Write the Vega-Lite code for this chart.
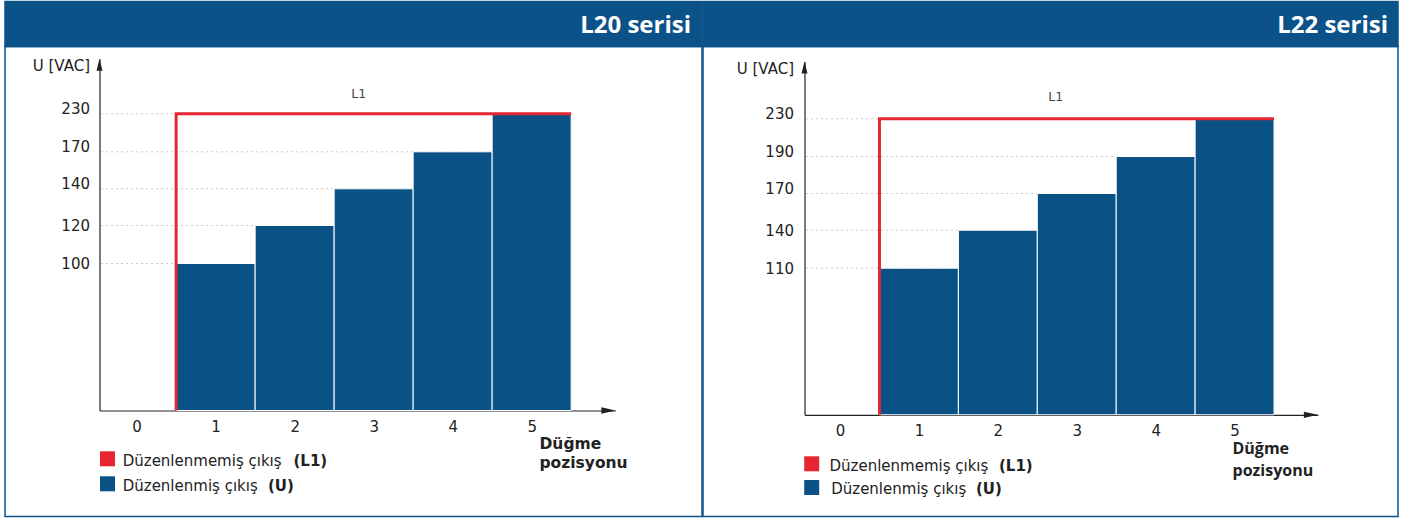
{
  "$schema": "https://vega.github.io/schema/vega-lite/v6.json",
  "background": "white",
  "padding": {"left": 4, "top": 0.5, "right": 9, "bottom": 2},
  "autosize": {"type": "pad"},
  "spacing": -2,
  "config": {
    "font": "DejaVu Sans",
    "view": {"stroke": "#0b5289", "strokeWidth": 1.5},
    "concat": {"spacing": 0},
    "scale": {"continuousPadding": 0}
  },
  "datasets": {
    "head_l20": [{"title": "L20 serisi"}],
    "head_l22": [{"title": "L22 serisi"}],
    "l20_bars": [{"pos": 1, "U": 100}, {"pos": 2, "U": 120}, {"pos": 3, "U": 140}, {"pos": 4, "U": 170}, {"pos": 5, "U": 230}],
    "l20_L1": [{"pos": 0.5, "L1": 0}, {"pos": 0.5, "L1": 230}, {"pos": 5.5, "L1": 230}],
    "l20_ticks": [{"tick": 100}, {"tick": 120}, {"tick": 140}, {"tick": 170}, {"tick": 230}],
    "l22_bars": [{"pos": 1, "U": 110}, {"pos": 2, "U": 140}, {"pos": 3, "U": 170}, {"pos": 4, "U": 190}, {"pos": 5, "U": 230}],
    "l22_L1": [{"pos": 0.5, "L1": 0}, {"pos": 0.5, "L1": 230}, {"pos": 5.5, "L1": 230}],
    "l22_ticks": [{"tick": 110}, {"tick": 140}, {"tick": 170}, {"tick": 190}, {"tick": 230}],
    "legend": [
      {"series": "L1", "label": "Düzenlenmemiş çıkış", "key": "(L1)"},
      {"series": "U", "label": "Düzenlenmiş çıkış", "key": "(U)"}
    ]
  },
  "hconcat": [
    {
      "spacing": 0,
      "bounds": "flush",
      "vconcat": [
        {
          "width": 697, "height": 45,
          "view": {"fill": "#0b5289", "stroke": "#0b5289"},
          "data": {"name": "head_l20"},
          "mark": {"type": "text", "align": "right", "baseline": "middle", "font": "Open Sans", "fontWeight": "bold", "fontSize": 24, "color": "white", "dx": -11, "dy": 1.5},
          "encoding": {"text": {"field": "title"}, "x": {"value": "width"}}
        },
        {
          "width": 697, "height": 470,
          "layer": [
            {
              "data": {"name": "l20_ticks"},
              "mark": {"type": "rule", "strokeDash": [2, 3], "color": "#c9c9c9", "strokeWidth": 1},
              "encoding": {
                "y": {"field": "tick", "type": "quantitative",
                  "scale": {"domain": [0, 100, 120, 140, 170, 230, 260], "range": [364, 217, 179, 142.3, 105.3, 67.3, 12.3], "nice": false, "zero": false, "padding": 0},
                  "axis": {"values": [100, 120, 140, 170, 230], "format": "d", "offset": -94.5, "domain": true, "domainColor": "#222", "domainWidth": 1.2, "ticks": false, "tickSize": 0, "grid": false, "labelPadding": 10, "labelFontSize": 15, "labelColor": "#222",
                    "labelOffset": {"condition": {"test": "datum.value >= 140", "value": -5}, "value": 0},
                    "title": "U [VAC]", "titleAngle": 0, "titleAlign": "right", "titleBaseline": "middle", "titleX": -10, "titleY": 19, "titleFontSize": 15, "titleFontWeight": "normal", "titleColor": "#222"}},
                "x": {"datum": -0.45, "type": "quantitative",
                  "scale": {"domain": [-0.47, 6.06], "range": [94.5, 610.4], "nice": false, "zero": false, "padding": 0},
                  "axis": {"values": [0, 1, 2, 3, 4, 5], "format": "d", "offset": -106, "domain": true, "domainColor": "#222", "domainWidth": 1.2, "ticks": false, "tickSize": 0, "grid": false, "labelBaseline": "middle", "labelPadding": 16, "labelFontSize": 15, "labelColor": "#222", "labelFlush": false, "labelOverlap": false,
                    "title": ["Düğme", "pozisyonu"], "titleAngle": 0, "titleAlign": "left", "titleBaseline": "middle", "titleX": 534, "titleY": 33, "titleLineHeight": 18.5, "titleFontSize": 15.5, "titleFontWeight": "bold", "titleColor": "#222"}},
                "x2": {"datum": 5.5}
              }
            },
            {
              "data": {"name": "l20_bars"},
              "mark": {"type": "bar", "width": 79, "color": "#0a5286", "stroke": "white", "strokeWidth": 1},
              "encoding": {
                "x": {"field": "pos", "type": "quantitative"},
                "y": {"field": "U", "type": "quantitative"}
              }
            },
            {
              "data": {"name": "l20_L1"},
              "mark": {"type": "line", "color": "#e62631", "strokeWidth": 3, "strokeJoin": "miter"},
              "encoding": {
                "x": {"field": "pos", "type": "quantitative"},
                "y": {"field": "L1", "type": "quantitative"},
                "order": {"value": null}
              }
            },
            {
              "data": {"values": [{"name": "L1"}]},
              "mark": {"type": "text", "fontSize": 12.5, "color": "#444", "align": "center", "baseline": "middle", "dx": -15, "dy": -20},
              "encoding": {"x": {"datum": 3}, "y": {"datum": 230}, "text": {"field": "name"}}
            },
            {
              "data": {"values": [{}]},
              "mark": {"type": "point", "shape": "M-2,-0.45L0,0L-2,0.45Z", "size": 196, "filled": true, "opacity": 1, "color": "#222"},
              "encoding": {"x": {"datum": 6.06}, "y": {"datum": 0}}
            },
            {
              "data": {"values": [{}]},
              "mark": {"type": "point", "shape": "M-0.5,2L0,0L0.5,2Z", "size": 144, "filled": true, "opacity": 1, "color": "#222"},
              "encoding": {"x": {"datum": -0.47}, "y": {"datum": 260}}
            },
            {
              "data": {"name": "legend"},
              "transform": [{"filter": "datum.series == 'L1'"}],
              "layer": [
                {"mark": {"type": "point", "shape": "square", "size": 225, "filled": true, "opacity": 1, "color": "#e62631", "xOffset": 8, "yOffset": 48.3}},
                {"mark": {"type": "text", "align": "left", "baseline": "middle", "fontSize": 15, "color": "#222", "dx": 23.2, "dy": 50}, "encoding": {"text": {"field": "label"}}},
                {"mark": {"type": "text", "align": "left", "baseline": "middle", "fontSize": 15, "fontWeight": "bold", "color": "#222", "dx": 194, "dy": 50}, "encoding": {"text": {"field": "key"}}}
              ],
              "encoding": {"x": {"datum": -0.47}, "y": {"datum": 0}}
            },
            {
              "data": {"name": "legend"},
              "transform": [{"filter": "datum.series == 'U'"}],
              "layer": [
                {"mark": {"type": "point", "shape": "square", "size": 225, "filled": true, "opacity": 1, "color": "#0a5286", "xOffset": 8, "yOffset": 73.3}},
                {"mark": {"type": "text", "align": "left", "baseline": "middle", "fontSize": 15, "color": "#222", "dx": 23.2, "dy": 75}, "encoding": {"text": {"field": "label"}}},
                {"mark": {"type": "text", "align": "left", "baseline": "middle", "fontSize": 15, "fontWeight": "bold", "color": "#222", "dx": 168.5, "dy": 75}, "encoding": {"text": {"field": "key"}}}
              ],
              "encoding": {"x": {"datum": -0.47}, "y": {"datum": 0}}
            }
          ]
        }
      ]
    },
    {
      "spacing": 0,
      "bounds": "flush",
      "vconcat": [
        {
          "width": 695, "height": 45,
          "view": {"fill": "#0b5289", "stroke": "#0b5289"},
          "data": {"name": "head_l22"},
          "mark": {"type": "text", "align": "right", "baseline": "middle", "font": "Open Sans", "fontWeight": "bold", "fontSize": 24, "color": "white", "dx": -10, "dy": 1.5},
          "encoding": {"text": {"field": "title"}, "x": {"value": "width"}}
        },
        {
          "width": 695, "height": 470,
          "layer": [
            {
              "data": {"name": "l22_ticks"},
              "mark": {"type": "rule", "strokeDash": [2, 3], "color": "#c9c9c9", "strokeWidth": 1},
              "encoding": {
                "y": {"field": "tick", "type": "quantitative",
                  "scale": {"domain": [0, 110, 140, 170, 190, 230, 260], "range": [368.3, 221.7, 183.7, 147, 110, 72.3, 15], "nice": false, "zero": false, "padding": 0},
                  "axis": {"values": [110, 140, 170, 190, 230], "format": "d", "offset": -101.5, "domain": true, "domainColor": "#222", "domainWidth": 1.2, "ticks": false, "tickSize": 0, "grid": false, "labelPadding": 11, "labelFontSize": 15, "labelColor": "#222",
                    "labelOffset": {"condition": {"test": "datum.value >= 170", "value": -5.5}, "value": 0},
                    "title": "U [VAC]", "titleAngle": 0, "titleAlign": "right", "titleBaseline": "middle", "titleX": -11, "titleY": 22, "titleFontSize": 15, "titleFontWeight": "normal", "titleColor": "#222"}},
                "x": {"datum": -0.43, "type": "quantitative",
                  "scale": {"domain": [-0.45, 6.056], "range": [101.5, 614.9], "nice": false, "zero": false, "padding": 0},
                  "axis": {"values": [0, 1, 2, 3, 4, 5], "format": "d", "offset": -101.7, "domain": true, "domainColor": "#222", "domainWidth": 1.2, "ticks": false, "tickSize": 0, "grid": false, "labelBaseline": "middle", "labelPadding": 16, "labelFontSize": 15, "labelColor": "#222", "labelFlush": false, "labelOverlap": false,
                    "title": ["Düğme", "pozisyonu"], "titleAngle": 0, "titleAlign": "left", "titleBaseline": "middle", "titleX": 529, "titleY": 34, "titleLineHeight": 21.5, "titleFontSize": 16, "titleFont": "Open Sans", "titleFontWeight": "bold", "titleColor": "#222"}},
                "x2": {"datum": 5.5}
              }
            },
            {
              "data": {"name": "l22_bars"},
              "mark": {"type": "bar", "width": 78.9, "color": "#0a5286", "stroke": "white", "strokeWidth": 1},
              "encoding": {
                "x": {"field": "pos", "type": "quantitative"},
                "y": {"field": "U", "type": "quantitative"}
              }
            },
            {
              "data": {"name": "l22_L1"},
              "mark": {"type": "line", "color": "#e62631", "strokeWidth": 3, "strokeJoin": "miter"},
              "encoding": {
                "x": {"field": "pos", "type": "quantitative"},
                "y": {"field": "L1", "type": "quantitative"},
                "order": {"value": null}
              }
            },
            {
              "data": {"values": [{"name": "L1"}]},
              "mark": {"type": "text", "fontSize": 12.5, "color": "#444", "align": "center", "baseline": "middle", "dx": -21, "dy": -21.5},
              "encoding": {"x": {"datum": 3}, "y": {"datum": 230}, "text": {"field": "name"}}
            },
            {
              "data": {"values": [{}]},
              "mark": {"type": "point", "shape": "M-2,-0.45L0,0L-2,0.45Z", "size": 196, "filled": true, "opacity": 1, "color": "#222"},
              "encoding": {"x": {"datum": 6.056}, "y": {"datum": 0}}
            },
            {
              "data": {"values": [{}]},
              "mark": {"type": "point", "shape": "M-0.5,2L0,0L0.5,2Z", "size": 144, "filled": true, "opacity": 1, "color": "#222"},
              "encoding": {"x": {"datum": -0.45}, "y": {"datum": 260}}
            },
            {
              "data": {"name": "legend"},
              "transform": [{"filter": "datum.series == 'L1'"}],
              "layer": [
                {"mark": {"type": "point", "shape": "square", "size": 225, "filled": true, "opacity": 1, "color": "#e62631", "xOffset": 7.2, "yOffset": 49}},
                {"mark": {"type": "text", "align": "left", "baseline": "middle", "fontSize": 15, "color": "#222", "dx": 25, "dy": 50.7}, "encoding": {"text": {"field": "label"}}},
                {"mark": {"type": "text", "align": "left", "baseline": "middle", "fontSize": 15, "fontWeight": "bold", "color": "#222", "dx": 194.5, "dy": 50.7}, "encoding": {"text": {"field": "key"}}}
              ],
              "encoding": {"x": {"datum": -0.45}, "y": {"datum": 0}}
            },
            {
              "data": {"name": "legend"},
              "transform": [{"filter": "datum.series == 'U'"}],
              "layer": [
                {"mark": {"type": "point", "shape": "square", "size": 225, "filled": true, "opacity": 1, "color": "#0a5286", "xOffset": 7.2, "yOffset": 72.7}},
                {"mark": {"type": "text", "align": "left", "baseline": "middle", "fontSize": 15, "color": "#222", "dx": 26.7, "dy": 73.7}, "encoding": {"text": {"field": "label"}}},
                {"mark": {"type": "text", "align": "left", "baseline": "middle", "fontSize": 15, "fontWeight": "bold", "color": "#222", "dx": 171.5, "dy": 73.7}, "encoding": {"text": {"field": "key"}}}
              ],
              "encoding": {"x": {"datum": -0.45}, "y": {"datum": 0}}
            }
          ]
        }
      ]
    }
  ]
}
